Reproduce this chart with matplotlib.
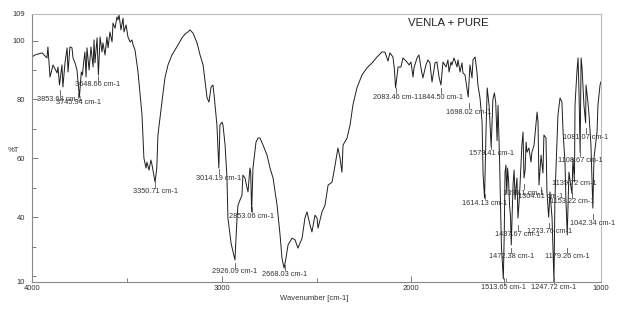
import matplotlib
matplotlib.use('Agg')
import matplotlib.pyplot as plt

# ---- spectrum data (wavenumber in cm-1, %T) ----
wavenumber = [
    4000, 3984, 3968, 3947, 3921, 3916, 3905, 3889, 3868, 3863, 3855, 3842, 3837, 3826, 3815, 3810,
    3800, 3789, 3784, 3773, 3763, 3750, 3740, 3734, 3728, 3721, 3715, 3710, 3699, 3689, 3678, 3673,
    3668, 3657, 3650, 3641, 3631, 3626, 3615, 3605, 3599, 3589, 3578, 3573, 3562, 3552, 3547, 3541,
    3531, 3520, 3515, 3504, 3494, 3483, 3473, 3467, 3457, 3441, 3420, 3410, 3399, 3394, 3383, 3373,
    3367, 3351, 3342, 3336, 3315, 3299, 3283, 3262, 3246, 3230, 3209, 3193, 3178, 3167, 3151, 3130,
    3114, 3098, 3077, 3067, 3056, 3046, 3040, 3025, 3015, 3009, 2998, 2993, 2982, 2972, 2967, 2950,
    2930, 2919, 2914, 2893, 2888, 2877, 2866, 2861, 2851, 2847, 2842, 2835, 2819, 2808, 2798, 2782,
    2761, 2745, 2729, 2708, 2692, 2682, 2671, 2661, 2650, 2629, 2613, 2598, 2576, 2561, 2550, 2534,
    2524, 2508, 2497, 2492, 2471, 2455, 2439, 2418, 2402, 2387, 2376, 2366, 2360, 2339, 2323, 2308,
    2287, 2260, 2234, 2207, 2181, 2155, 2139, 2123, 2113, 2097, 2090, 2083, 2070, 2055, 2044, 2023,
    2012, 2002, 1991, 1986, 1970, 1960, 1949, 1939, 1923, 1912, 1902, 1891, 1875, 1865, 1854, 1844,
    1833, 1817, 1807, 1801, 1791, 1786, 1775, 1759, 1754, 1743, 1733, 1728, 1717, 1700, 1691, 1680,
    1675, 1664, 1654, 1649, 1638, 1627, 1622, 1614, 1606, 1600, 1590, 1579, 1570, 1562, 1555, 1548,
    1543, 1535, 1525, 1515, 1510, 1506, 1501, 1497, 1492, 1487, 1482, 1477, 1473, 1468, 1463, 1458,
    1453, 1448, 1443, 1438, 1432, 1427, 1417, 1411, 1406, 1400, 1395, 1390, 1380, 1369, 1364, 1353,
    1343, 1337, 1332, 1327, 1316, 1306, 1301, 1290, 1285, 1276, 1269, 1258, 1248, 1243, 1232, 1227,
    1216, 1206, 1200, 1190, 1185, 1178, 1169, 1160, 1153, 1148, 1140, 1137, 1127, 1121, 1116, 1110,
    1105, 1100, 1090, 1081, 1079, 1069, 1063, 1053, 1043, 1037, 1021, 1016, 1005, 1000,
]
transmittance = [
    94.4, 95.1, 95.4, 95.8, 94.1, 97.8, 87.6, 91.7, 89.0, 91.0, 84.9, 91.7, 84.2, 92.4, 97.5, 89.3,
    97.8, 97.5, 94.1, 92.4, 90.0, 80.8, 89.3, 88.3, 92.4, 96.1, 87.6, 97.5, 90.0, 97.8, 91.0, 100.2,
    92.4, 100.9, 88.3, 101.2, 96.1, 99.2, 95.1, 101.2, 97.5, 102.9, 99.5, 105.9, 104.2, 108.0, 107.0, 108.7,
    103.6, 107.6, 102.9, 105.3, 101.2, 99.5, 100.2, 98.5, 96.8, 89.3, 74.7, 60.1, 56.7, 58.7, 56.0, 59.4,
    57.7, 51.9, 56.7, 67.9, 79.1, 87.3, 91.7, 95.1, 96.8, 98.5, 100.9, 102.2, 102.9, 103.6, 102.5, 99.2,
    95.1, 91.7, 80.5, 79.1, 84.2, 84.9, 81.5, 71.3, 56.7, 71.3, 72.3, 71.3, 64.5, 53.3, 39.7, 31.0,
    25.5, 39.7, 44.1, 47.5, 54.3, 53.3, 49.9, 48.6, 56.7, 55.3, 41.8, 56.7, 65.5, 66.9, 66.9, 64.5,
    61.1, 56.7, 53.3, 44.1, 33.9, 26.1, 22.7, 26.1, 30.6, 32.9, 32.3, 29.5, 32.9, 39.7, 41.8, 37.3,
    35.0, 40.7, 39.7, 36.3, 41.8, 44.1, 50.9, 51.9, 57.7, 63.5, 60.1, 55.3, 64.5, 66.9, 71.3, 78.1,
    83.9, 88.3, 90.7, 92.4, 94.4, 96.1, 96.1, 93.0, 95.8, 94.4, 90.7, 83.9, 91.0, 91.0, 94.1, 92.7,
    91.7, 92.7, 87.6, 90.7, 94.1, 95.1, 90.7, 87.3, 91.7, 93.4, 92.4, 85.9, 92.4, 92.7, 87.6, 84.9,
    92.7, 91.0, 93.4, 89.3, 92.7, 91.7, 94.1, 91.0, 93.4, 89.3, 92.4, 89.0, 88.3, 80.8, 91.7, 87.3,
    93.4, 94.4, 89.3, 84.9, 80.5, 72.3, 55.0, 46.5, 70.0, 83.9, 78.0, 63.8, 80.0, 82.2, 79.0, 66.0,
    78.0, 60.0, 30.0, 19.0, 35.0, 55.3, 57.7, 48.0, 56.7, 52.0, 44.0, 40.0, 30.6, 42.0, 52.0, 56.0,
    46.0, 50.0, 53.3, 39.7, 45.0, 50.9, 64.5, 68.9, 53.3, 56.0, 65.5, 62.1, 63.5, 58.7, 62.1, 64.5,
    71.3, 75.7, 72.3, 50.9, 61.1, 55.0, 67.9, 66.9, 48.6, 40.0, 48.6, 39.7, 18.0, 46.5, 65.5, 74.7,
    80.5, 79.1, 68.9, 58.7, 46.0, 34.0, 55.3, 50.9, 48.0, 60.0, 52.0, 78.1, 89.3, 94.1, 82.5, 62.0,
    94.1, 90.7, 78.1, 72.0, 84.9, 79.1, 74.7, 64.5, 43.1, 60.1, 68.9, 78.1, 84.9, 86.0,
]

# ---- peak annotations ----
peak_wn = [3853.68, 3755.0, 3652.0, 3350.71, 3014.19, 2930.0, 2842.0, 2668.03, 2083.46,
           1844.50, 1698.02, 1614.13, 1579.41, 1513.65, 1472.38, 1437.67, 1408.0, 1318.0,
           1273.76, 1247.72, 1179.26, 1153.22, 1139.72, 1108.67, 1081.07, 1042.34]
peak_text = ['3853.68 cm-1', '3745.94 cm-1', '3648.66 cm-1', '3350.71 cm-1', '3014.19 cm-1',
             '2926.09 cm-1', '2853.06 cm-1', '2668.03 cm-1', '2083.46 cm-1', '1844.50 cm-1',
             '1698.02 cm-1', '1614.13 cm-1', '1579.41 cm-1', '1513.65 cm-1', '1472.38 cm-1',
             '1437.67 cm-1', '1396.1 cm-1', '1304.61 cm-1', '1273.76 cm-1', '1247.72 cm-1',
             '1179.26 cm-1', '1153.22 cm-1', '1139.72 cm-1', '1108.67 cm-1', '1081.07 cm-1',
             '1042.34 cm-1']
peak_text_T = [80.1, 79.1, 84.9, 48.6, 53.3, 21.4, 40.4, 20.7, 80.8,
               80.8, 75.7, 44.8, 61.8, 16.3, 26.5, 34.0, 48.2, 46.9,
               35.0, 16.3, 26.5, 45.2, 51.6, 59.4, 67.2, 38.0]

x_major = [4000, 3000, 2000, 1000]
x_minor = [3500, 2500, 1500]
y_major = [18, 40, 60, 80, 100, 109]
y_major_labels = ['10', '40', '60', '80', '100', '109']
y_minor = [20, 30, 50, 70, 90]

FONT = ['Liberation Sans', 'DejaVu Sans']
plt.rcParams['font.family'] = FONT

fig = plt.figure(figsize=(6.27, 3.10), dpi=100)
ax = fig.add_axes([32 / 627, 1 - 282 / 310, (601 - 32) / 627, (282 - 14) / 310])

ax.plot(wavenumber, transmittance, color='#1e1e1e', lw=0.7)

for wn, txt, ty in zip(peak_wn, peak_text, peak_text_T):
    ax.plot([wn, wn], [ty + 1.3, ty + 3.2], color='#555', lw=0.6, clip_on=False)
    ax.text(wn, ty, txt, ha='center', va='center', fontsize=5.3, color='#333', clip_on=False)

ax.set_xlim(4000, 1000)
ax.set_ylim(18, 109)
ax.set_xticks(x_major)
ax.set_xticks(x_minor, minor=True)
ax.set_yticks(y_major)
ax.set_yticklabels(y_major_labels)
ax.set_yticks(y_minor, minor=True)
ax.tick_params(which='both', direction='in', color='#666', width=0.6, labelsize=5.5,
               labelcolor='#333')
ax.tick_params(which='major', length=4, pad=2)
ax.tick_params(which='minor', length=3)
ax.tick_params(axis='y', pad=5)

for side in ['left', 'bottom']:
    ax.spines[side].set_color('#888')
    ax.spines[side].set_linewidth(0.8)
for side in ['top', 'right']:
    ax.spines[side].set_color('#bbb')
    ax.spines[side].set_linewidth(0.8)

fig.text(13 / 627, 1 - 150 / 310, '%T', ha='center', va='center', fontsize=5.5, color='#333')
fig.text(314 / 627, 1 - 299 / 310, 'Wavenumber [cm-1]', ha='center', va='center',
         fontsize=5.5, color='#333')
fig.text(408 / 627, 1 - 23 / 310, 'VENLA + PURE', ha='left', va='center', fontsize=8.2,
         color='#222')

fig.savefig('out.png', dpi=100)
